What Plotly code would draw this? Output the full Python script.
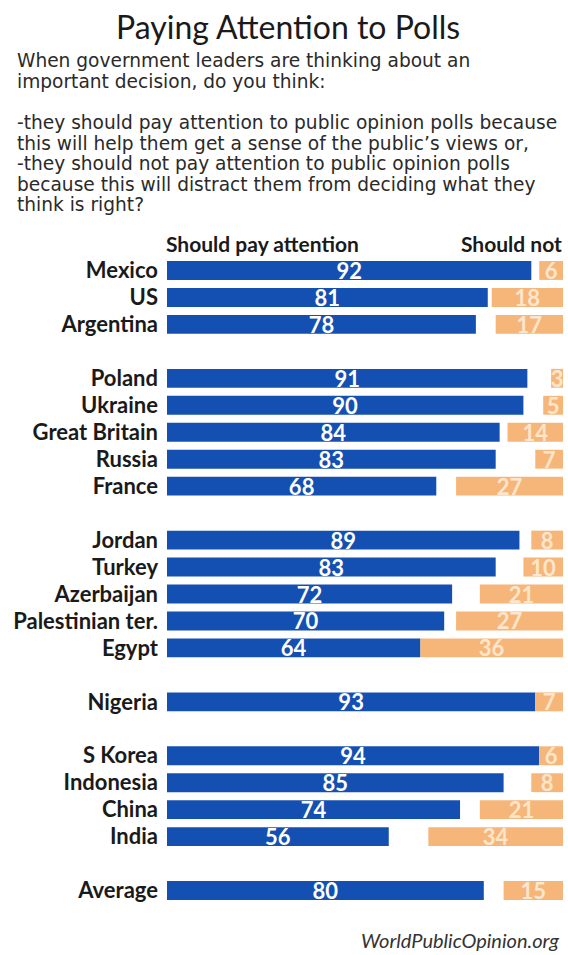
import plotly.graph_objects as go

# Survey results (percent), grouped by region
groups = [
    ["Mexico", "US", "Argentina"],
    ["Poland", "Ukraine", "Great Britain", "Russia", "France"],
    ["Jordan", "Turkey", "Azerbaijan", "Palestinian ter.", "Egypt"],
    ["Nigeria"],
    ["S Korea", "Indonesia", "China", "India"],
    ["Average"],
]
should_pay = [92, 81, 78, 91, 90, 84, 83, 68, 89, 83, 72, 70, 64, 93, 94, 85, 74, 56, 80]
should_not = [6, 18, 17, 3, 5, 14, 7, 27, 8, 10, 21, 27, 36, 7, 6, 8, 21, 34, 15]

title_text = "Paying Attention to Polls"
question_lines = [
    "When government leaders are thinking about an",
    "important decision, do you think:",
    "",
    "-they should pay attention to public opinion polls because",
    "this will help them get a sense of the public\u2019s views or,",
    "-they should not pay attention to public opinion polls",
    "because this will distract them from deciding what they",
    "think is right?",
]
left_header = "Should pay attention"
right_header = "Should not"
source_text = "WorldPublicOpinion.org"

# Row slots: one blank slot between groups
countries, slots = [], []
pos = 0
for g in groups:
    for c in g:
        countries.append(c)
        slots.append(pos)
        pos += 1
    pos += 1
n_slots = pos - 1

W, H = 568, 955
M_L, M_R, M_T, M_B = 167, 5, 257, 24
plot_h = H - M_T - M_B
plot_w = W - M_L - M_R


def py(px):
    """pixel y (from top) -> paper y"""
    return (H - M_B - px) / plot_h


def px_x(px):
    return (px - M_L) / plot_w


BLUE = "#1450b2"
ORANGE = "#f7b679"
SANS = "Lato, 'Open Sans', sans-serif"
WIDE = "'DejaVu Sans', Verdana, sans-serif"

fig = go.Figure()
fig.add_trace(go.Bar(
    orientation="h", y=slots, x=should_pay, base=0, width=0.7,
    marker=dict(color=BLUE, line=dict(width=0)),
    text=[str(v) for v in should_pay], textposition="inside", textangle=0,
    insidetextanchor="middle", constraintext="none",
    textfont=dict(family=SANS, size=22, color="white", weight="bold"),
    hoverinfo="skip",
))
fig.add_trace(go.Bar(
    orientation="h", y=slots, x=should_not, base=[100 - v for v in should_not], width=0.7,
    marker=dict(color=ORANGE, line=dict(width=0)),
    text=[str(v) for v in should_not], textposition="inside", textangle=0,
    insidetextanchor="middle", constraintext="none",
    textfont=dict(family=SANS, size=22, color="#fde6cc", weight="bold"),
    hoverinfo="skip",
))

annotations = [
    dict(text=title_text, x=px_x(288), y=py(26), xanchor="center", yanchor="middle",
         font=dict(family=SANS, size=32, color="#1a1a1a")),
]
# Question text, one line per annotation with tight leading
line_y = [61, 81.5, 102, 122.5, 143, 163.5, 184, 204.5]
for t, yy in zip(question_lines, line_y):
    if t:
        annotations.append(dict(text=t, x=px_x(16), y=py(yy), xanchor="left", yanchor="middle",
                                borderpad=0,
                                font=dict(family=WIDE, size=18.6, color="#2a2a2a")))
annotations += [
    dict(text=left_header, x=px_x(164), y=py(243), xanchor="left", yanchor="middle",
         font=dict(family=SANS, size=21, color="#1a1a1a", weight="bold")),
    dict(text=right_header, x=px_x(564), y=py(243), xanchor="right", yanchor="middle",
         font=dict(family=SANS, size=21, color="#1a1a1a", weight="bold")),
    dict(text="<i>" + source_text + "</i>", x=px_x(561), y=py(940), xanchor="right", yanchor="middle",
         font=dict(family=SANS, size=20, color="#333333")),
]
for a in annotations:
    a.update(xref="paper", yref="paper", showarrow=False)

fig.update_layout(
    width=W, height=H,
    margin=dict(l=M_L, r=M_R, t=M_T, b=M_B, pad=0),
    paper_bgcolor="white", plot_bgcolor="white",
    barmode="overlay", showlegend=False,
    uniformtext=dict(minsize=22, mode="show"),
    xaxis=dict(range=[0, 100], visible=False, fixedrange=True),
    yaxis=dict(range=[n_slots + 0.5, -0.5], tickvals=slots, ticktext=countries,
               showgrid=False, zeroline=False, showline=False, ticks="",
               ticklabelstandoff=8,
               tickfont=dict(family=SANS, size=22, color="#1a1a1a", weight="bold"),
               fixedrange=True),
    annotations=annotations,
)

fig.write_html("out.html", config={"displayModeBar": False})
